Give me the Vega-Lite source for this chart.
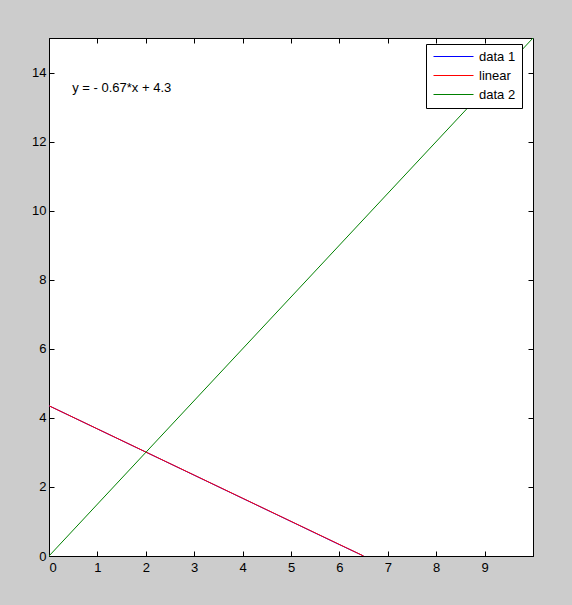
{
  "$schema": "https://vega.github.io/schema/vega-lite/v6.json",
  "width": 484,
  "height": 518,
  "autosize": {"type": "none"},
  "padding": {"left": 49, "top": 38, "right": 39, "bottom": 49},
  "background": "#cccccc",
  "config": {
    "view": {"fill": "white", "stroke": "black", "strokeWidth": 1},
    "font": "Liberation Sans",
    "axis": {
      "grid": false,
      "domainColor": "black",
      "tickColor": "black",
      "tickSize": -5,
      "labelColor": "black",
      "labelFontSize": 13,
      "labelFont": "Liberation Sans",
      "title": null
    }
  },
  "datasets": {
    "lines": [
      {"series": "data 1", "x": 0, "y": 4.35},
      {"series": "data 1", "x": 1, "y": 3.68},
      {"series": "data 1", "x": 2, "y": 3.01},
      {"series": "data 1", "x": 3, "y": 2.34},
      {"series": "data 1", "x": 4, "y": 1.67},
      {"series": "data 1", "x": 5, "y": 1.0},
      {"series": "data 1", "x": 6, "y": 0.33},
      {"series": "data 1", "x": 6.5, "y": 0.0},
      {"series": "linear", "x": 0, "y": 4.35},
      {"series": "linear", "x": 6.5, "y": 0.0},
      {"series": "data 2", "x": 0, "y": 0},
      {"series": "data 2", "x": 10, "y": 15}
    ]
  },
  "resolve": {"axis": {"x": "independent", "y": "independent"}},
  "layer": [
    {
      "data": {"name": "lines"},
      "mark": {"type": "line", "clip": true, "strokeWidth": 1},
      "encoding": {
        "x": {"field": "x", "type": "quantitative", "scale": {"domain": [0, 10], "nice": false},
              "axis": {"orient": "bottom", "values": [0,1,2,3,4,5,6,7,8,9], "labelPadding": 10}},
        "y": {"field": "y", "type": "quantitative", "scale": {"domain": [0, 15], "nice": false},
              "axis": {"orient": "left", "values": [0,2,4,6,8,10,12,14], "labelPadding": 8}},
        "color": {
          "field": "series", "type": "nominal",
          "scale": {"domain": ["data 1", "linear", "data 2"], "range": ["#0000ff", "#ff0000", "#008000"]},
          "legend": {
            "title": null,
            "orient": "none",
            "legendX": 377,
            "legendY": 6,
            "fillColor": "white",
            "strokeColor": "black",
            "padding": 6,
            "symbolType": "M-7,0H1",
            "symbolSize": 100,
            "symbolStrokeWidth": 1,
            "symbolOpacity": 1,
            "symbolOffset": 30,
            "labelFontSize": 13,
            "labelColor": "black",
            "labelOffset": 4,
            "rowPadding": 5,
            "labelExpr": "datum.value == 'linear' ? '  linear' : datum.label"
          }
        },
        "order": {"field": "x", "type": "quantitative"}
      }
    },
    {
      "data": {"values": [{"x": 0.48, "y": 13.55, "label": "y = - 0.67*x + 4.3"}]},
      "mark": {"type": "text", "align": "left", "baseline": "middle", "fontSize": 13, "font": "Liberation Sans", "color": "black"},
      "encoding": {
        "x": {"field": "x", "type": "quantitative", "axis": {"orient": "top", "values": [0,1,2,3,4,5,6,7,8,9], "labels": false, "domain": false}},
        "y": {"field": "y", "type": "quantitative", "axis": {"orient": "right", "values": [0,2,4,6,8,10,12,14], "labels": false, "domain": false}},
        "text": {"field": "label"}
      }
    }
  ]
}
